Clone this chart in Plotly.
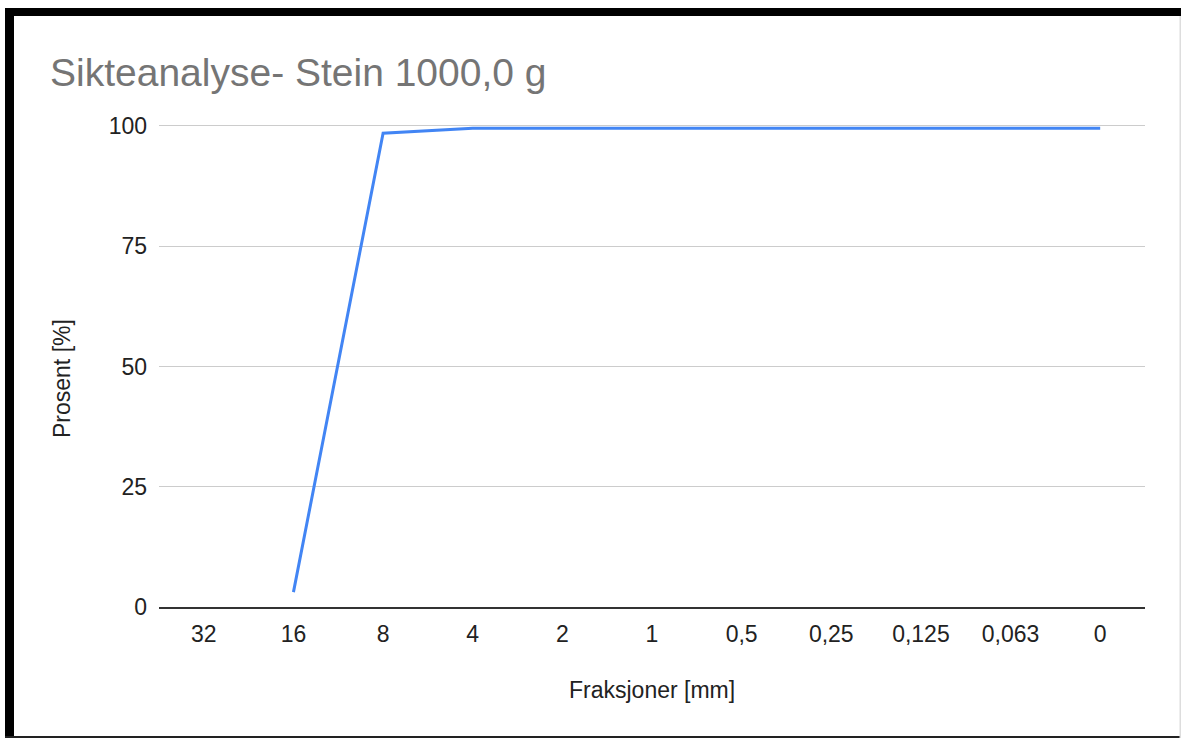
import plotly.graph_objects as go

categories = ["32", "16", "8", "4", "2", "1", "0,5", "0,25", "0,125", "0,063", "0"]
percent = [None, 3.1, 98.5, 99.5, 99.5, 99.5, 99.5, 99.5, 99.5, 99.5, 99.5]
y_ticks = [0, 25, 50, 75, 100]

title_text = "Sikteanalyse- Stein 1000,0 g"
x_title = "Fraksjoner [mm]"
y_title = "Prosent [%]"

W, H = 1181, 738
L, R, T, B = 159, 1145, 124, 607
pw, ph = R - L, B - T


def px(x):
    return (x - L) / pw


def py(y):
    return (B - y) / ph


FONT = "Liberation Sans"

fig = go.Figure()
fig.add_trace(go.Scatter(
    x=categories, y=percent, mode="lines",
    line=dict(color="#4285F4", width=3),
    connectgaps=False, cliponaxis=False, hoverinfo="skip", showlegend=False,
))

shapes = [
    dict(type="rect", xref="paper", yref="paper", x0=px(5), x1=px(W), y0=py(16), y1=py(8),
         fillcolor="black", line=dict(width=0), layer="above"),
    dict(type="rect", xref="paper", yref="paper", x0=px(5), x1=px(14), y0=py(H), y1=py(8),
         fillcolor="black", line=dict(width=0), layer="above"),
    dict(type="rect", xref="paper", yref="paper", x0=px(5), x1=px(W), y0=py(H), y1=py(736),
         fillcolor="#222222", line=dict(width=0), layer="above"),
    dict(type="rect", xref="paper", yref="paper", x0=px(1179.5), x1=px(1181), y0=py(H), y1=py(16),
         fillcolor="#dddddd", line=dict(width=0), layer="above"),
]

annotations = [
    dict(text=x_title, xref="paper", yref="paper", x=px(652), y=py(690),
         xanchor="center", yanchor="middle", showarrow=False,
         font=dict(family=FONT, size=23, color="#222222")),
    dict(text=y_title, xref="paper", yref="paper", x=px(62), y=py(379),
         xanchor="center", yanchor="middle", showarrow=False, textangle=-90,
         font=dict(family=FONT, size=23, color="#222222")),
]

fig.update_layout(
    width=W, height=H,
    margin=dict(l=L, r=W - R, t=T, b=H - B, pad=0),
    paper_bgcolor="white", plot_bgcolor="white",
    title=dict(text=title_text, xref="container", yref="container",
               x=50 / W, y=1 - 72 / H, xanchor="left", yanchor="middle",
               font=dict(family=FONT, size=39, color="#757575")),
    font=dict(family=FONT, color="#222222"),
    shapes=shapes,
    annotations=annotations,
    showlegend=False,
)

fig.update_xaxes(
    type="category", categoryorder="array", categoryarray=categories,
    range=[-0.5, 10.5], showgrid=False, zeroline=False,
    showline=True, linecolor="#333333", linewidth=2,
    ticks="", ticklabelstandoff=5,
    tickfont=dict(family=FONT, size=23, color="#222222"),
)
fig.update_yaxes(
    range=[0, 100.4], tickvals=y_ticks, ticktext=[str(v) for v in y_ticks],
    showgrid=True, gridcolor="#cccccc", gridwidth=1, zeroline=False,
    showline=False, ticks="", ticklabelstandoff=11,
    tickfont=dict(family=FONT, size=23, color="#222222"),
)

fig.write_html("out.html")
